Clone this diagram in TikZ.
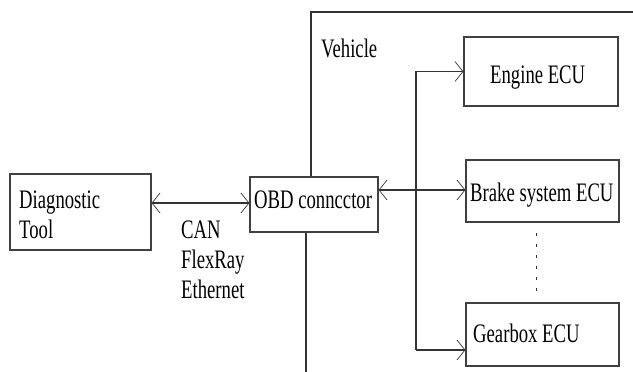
\documentclass[tikz,border=0pt]{standalone}
\usepackage{fontspec}
\setmainfont[FakeStretch=0.7]{Liberation Serif}
\usetikzlibrary{arrows.meta}
\begin{document}
\begin{tikzpicture}[x=1pt,y=-1pt,
  box/.style={draw=black!75,line width=1.2pt,rectangle,inner sep=0pt},
  lbl/.style={anchor=base west,inner sep=0pt,font=\fontsize{26.7}{30}\selectfont},
  wire/.style={draw=black!80,line width=1.1pt},
  arr/.style={wire,-{Straight Barb[length=8pt,width=20pt,line width=0.7pt]}},
  biarr/.style={wire,{Straight Barb[length=8pt,width=20pt,line width=0.7pt]}-{Straight Barb[length=8pt,width=20pt,line width=0.7pt]}}]
\useasboundingbox (0,0) rectangle (633,372);
% boxes
\node[box,minimum width=141pt,minimum height=76pt] (diag) at (80.5,212) {};
\node[box,minimum width=128pt,minimum height=55pt] (obd) at (314,204.5) {};
\node[box,minimum width=154pt,minimum height=69pt] (eng) at (541,71.5) {};
\node[box,minimum width=153pt,minimum height=62pt] (brake) at (542.5,191) {};
\node[box,minimum width=153pt,minimum height=63pt] (gear) at (542.5,334.5) {};
% texts
\node[lbl] (t1) at (19,208) {Diagnostic};
\node[lbl] (t2) at (19,238) {Tool};
\node[lbl] (t3) at (254,208) {OBD conncctor};
\node[lbl] (t4) at (321,57) {Vehicle};
\node[lbl] (t5) at (490,83.5) {Engine ECU};
\node[lbl] (t6) at (470,201.5) {Brake system ECU};
\node[lbl] (t7) at (473,342.5) {Gearbox ECU};
\node[lbl] (t8) at (181,238) {CAN};
\node[lbl] (t9) at (181,268) {FlexRay};
\node[lbl] (t10) at (181,298) {Ethernet};
% vehicle frame
\coordinate (vtl) at (311,12);
\coordinate (vtr) at (633,12);
\coordinate (vbl) at (306,372);
\draw[wire] (obd.north-|vtl) -- (vtl) -- (vtr);
\draw[wire] (obd.south-|vbl) -- (vbl);
% connectors
\coordinate (dy) at (0,203);
\coordinate (by) at (0,190);
\draw[biarr] (diag.east|-dy) -- (obd.west|-dy);
\draw[biarr] (obd.east|-by) -- (brake.west|-by);
\coordinate (busTop) at (416,71.5);
\coordinate (busBot) at (416,350);
\draw[arr] (busBot) -- (busTop) -- (eng.west|-busTop);
\draw[arr] (busBot) -- (gear.west|-busBot);
% dots
\coordinate (d1) at (536,233);
\coordinate (d2) at (536,292);
\draw[draw=black!80,line width=1pt,dash pattern=on 3pt off 8pt] (d1) -- (d2);
\end{tikzpicture}
\end{document}
